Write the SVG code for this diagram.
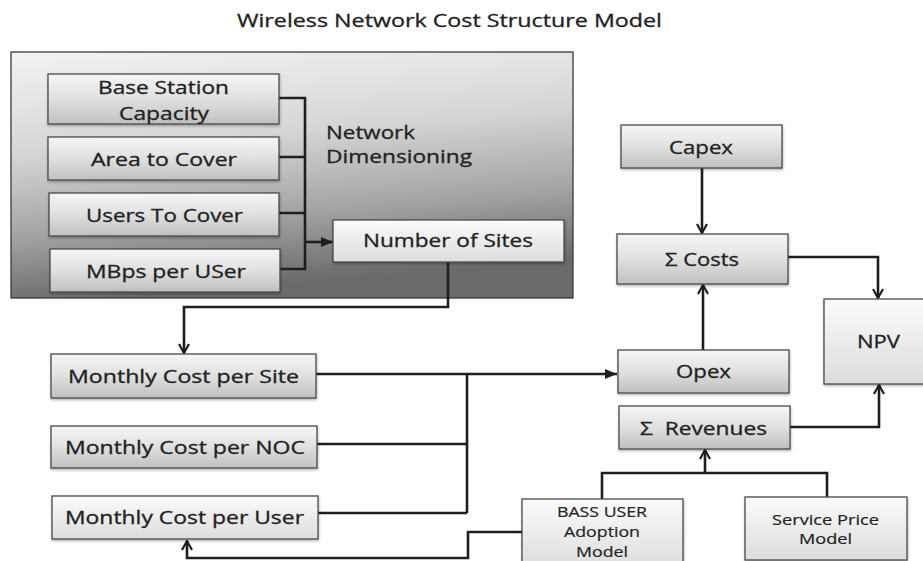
<svg xmlns="http://www.w3.org/2000/svg" width="923" height="561" viewBox="0 0 923 561">
  <defs>
    <style>
      text { font-family: "Open Sans", "Noto Sans", "DejaVu Sans", sans-serif; fill: #222222; stroke: #222222; stroke-width: 0.3; font-size: 18px; text-anchor: middle; white-space: pre; }
      .sm { font-size: 15px; stroke-width: 0.2; }
      .lft { text-anchor: start; }
      .box { stroke: #4a4a4a; stroke-width: 1.3; filter: url(#shadow); }
      .g1 { fill: url(#boxGrad); }
      .g2 { fill: url(#lightGrad); }
      .wire { fill: none; stroke: #1e1e1e; stroke-width: 2.6; }
    </style>
    <linearGradient id="panelGrad" x1="0" y1="0" x2="0.2" y2="1">
      <stop offset="0" stop-color="#f3f3f3"/>
      <stop offset="0.4" stop-color="#d6d6d6"/>
      <stop offset="0.72" stop-color="#a4a4a4"/>
      <stop offset="1" stop-color="#6a6a6a"/>
    </linearGradient>
    <linearGradient id="boxGrad" x1="0" y1="0" x2="0" y2="1">
      <stop offset="0" stop-color="#f6f6f6"/>
      <stop offset="0.5" stop-color="#e0e0e0"/>
      <stop offset="1" stop-color="#c0c0c0"/>
    </linearGradient>
    <linearGradient id="lightGrad" x1="0" y1="0" x2="0" y2="1">
      <stop offset="0" stop-color="#fbfbfb"/>
      <stop offset="1" stop-color="#dcdcdc"/>
    </linearGradient>
    <filter id="shadow" x="-5%" y="-10%" width="110%" height="130%">
      <feDropShadow dx="0.5" dy="1.5" stdDeviation="1" flood-color="#000" flood-opacity="0.3"/>
    </filter>
    <marker id="chev" viewBox="0 0 12 12" refX="11" refY="6" markerWidth="12" markerHeight="12" markerUnits="userSpaceOnUse" orient="auto">
      <path d="M2,1 L11,6 L2,11" fill="none" stroke="#1e1e1e" stroke-width="2.2"/>
    </marker>
    <marker id="tri" viewBox="0 0 12 12" refX="12" refY="6" markerWidth="12" markerHeight="12" markerUnits="userSpaceOnUse" orient="auto">
      <path d="M0,1 L12,6 L0,11 z" fill="#1e1e1e"/>
    </marker>
  </defs>

  <rect width="923" height="561" fill="#ffffff"/>

  <text x="449.5" y="27" textLength="425" lengthAdjust="spacingAndGlyphs">Wireless Network Cost Structure Model</text>

  <!-- network dimensioning panel -->
  <g id="panel">
    <rect x="11" y="52" width="562" height="246" fill="url(#panelGrad)" stroke="#3a3a3a" stroke-width="1.3"/>
    <text class="lft" x="326" y="139" textLength="89" lengthAdjust="spacingAndGlyphs">Network</text>
    <text class="lft" x="326" y="163" textLength="146" lengthAdjust="spacingAndGlyphs">Dimensioning</text>
  </g>

  <!-- connectors -->
  <g id="connectors">
    <path class="wire" d="M279,98 H305 V269 H280 M279,157 H305 M279,213 H305"/>
    <path class="wire" d="M305,242 H333" marker-end="url(#tri)"/>
    <path class="wire" d="M448,262 V307 H184 V353" marker-end="url(#chev)"/>
    <path class="wire" d="M316,374 H617" marker-end="url(#tri)"/>
    <path class="wire" d="M467,374 V513 M317,444 H467 M318,513 H467"/>
    <path class="wire" d="M522,532 H468 V558 H187 V541" marker-end="url(#chev)"/>
    <path class="wire" d="M702,168 V233" marker-end="url(#chev)"/>
    <path class="wire" d="M703,350 V285" marker-end="url(#chev)"/>
    <path class="wire" d="M788,257 H878 V298" marker-end="url(#chev)"/>
    <path class="wire" d="M790,427 H879 V385" marker-end="url(#chev)"/>
    <path class="wire" d="M602,499 V473 H827 V497"/>
    <path class="wire" d="M705,473 V450" marker-end="url(#chev)"/>
  </g>

  <g id="base-station">
    <rect class="box g1" x="48" y="74" width="231" height="50"/>
    <text x="163.5" y="94" textLength="131" lengthAdjust="spacingAndGlyphs">Base Station</text>
    <text x="164" y="120" textLength="90" lengthAdjust="spacingAndGlyphs">Capacity</text>
  </g>
  <g id="area">
    <rect class="box g1" x="48" y="137" width="231" height="43"/>
    <text x="164" y="165.5" textLength="146" lengthAdjust="spacingAndGlyphs">Area to Cover</text>
  </g>
  <g id="users">
    <rect class="box g1" x="49" y="193" width="230" height="43"/>
    <text x="164.5" y="221.5" textLength="157" lengthAdjust="spacingAndGlyphs">Users To Cover</text>
  </g>
  <g id="mbps">
    <rect class="box g1" x="50" y="249" width="230" height="43"/>
    <text x="166" y="278" textLength="160" lengthAdjust="spacingAndGlyphs">MBps per USer</text>
  </g>
  <g id="sites">
    <rect class="box g2" x="333" y="220" width="231" height="42"/>
    <text x="448" y="247" textLength="170" lengthAdjust="spacingAndGlyphs">Number of Sites</text>
  </g>

  <g id="cost-site">
    <rect class="box g1" x="51" y="354" width="265" height="44"/>
    <text x="183.5" y="383" textLength="231" lengthAdjust="spacingAndGlyphs">Monthly Cost per Site</text>
  </g>
  <g id="cost-noc">
    <rect class="box g1" x="51" y="426" width="266" height="42"/>
    <text x="185" y="454" textLength="240" lengthAdjust="spacingAndGlyphs">Monthly Cost per NOC</text>
  </g>
  <g id="cost-user">
    <rect class="box g2" x="52" y="496" width="266" height="43"/>
    <text x="184.5" y="524" textLength="239" lengthAdjust="spacingAndGlyphs">Monthly Cost per User</text>
  </g>

  <g id="capex">
    <rect class="box g1" x="621" y="125" width="161" height="43"/>
    <text x="701" y="154" textLength="64" lengthAdjust="spacingAndGlyphs">Capex</text>
  </g>
  <g id="costs">
    <rect class="box g1" x="617" y="234" width="171" height="50"/>
    <text x="702" y="266" textLength="74" lengthAdjust="spacingAndGlyphs">Σ Costs</text>
  </g>
  <g id="npv">
    <rect class="box g2" x="824" y="299" width="110" height="85"/>
    <text x="878.5" y="348" textLength="43" lengthAdjust="spacingAndGlyphs">NPV</text>
  </g>
  <g id="opex">
    <rect class="box g1" x="618" y="350" width="171" height="43"/>
    <text x="703.5" y="378" textLength="55" lengthAdjust="spacingAndGlyphs">Opex</text>
  </g>
  <g id="revenues">
    <rect class="box g1" x="619" y="406" width="171" height="43"/>
    <text x="703.5" y="435" textLength="127" lengthAdjust="spacingAndGlyphs">Σ  Revenues</text>
  </g>
  <g id="bass">
    <rect class="box g2" x="522" y="499" width="161" height="70"/>
    <text class="sm" x="602" y="517" textLength="90" lengthAdjust="spacingAndGlyphs">BASS USER</text>
    <text class="sm" x="602" y="537" textLength="76" lengthAdjust="spacingAndGlyphs">Adoption</text>
    <text class="sm" x="602" y="557" textLength="52" lengthAdjust="spacingAndGlyphs">Model</text>
  </g>
  <g id="service-price">
    <rect class="box g2" x="745" y="497" width="162" height="63"/>
    <text class="sm" x="825.5" y="525" textLength="107" lengthAdjust="spacingAndGlyphs">Service Price</text>
    <text class="sm" x="825.5" y="544" textLength="53" lengthAdjust="spacingAndGlyphs">Model</text>
  </g>
</svg>
